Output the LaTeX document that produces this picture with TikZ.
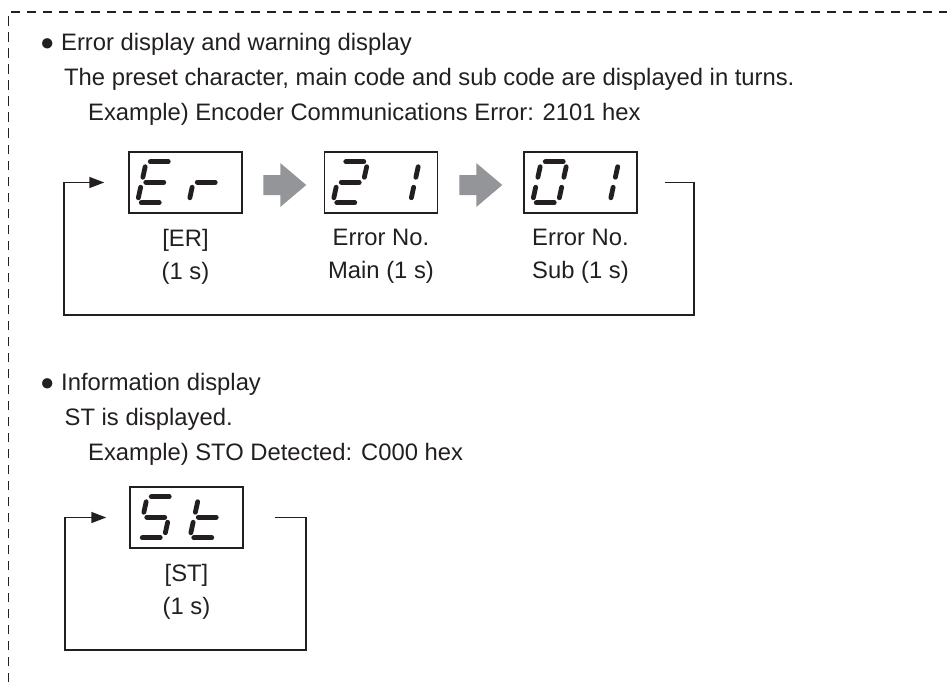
\documentclass[tikz,border=0pt]{standalone}
\usepackage{fontspec}
\setmainfont{Liberation Sans}
\usetikzlibrary{positioning,arrows.meta,calc}

\definecolor{ink}{RGB}{35,31,32}
\definecolor{arrowgray}{RGB}{147,149,152}

\tikzset{
  txt/.style={anchor=base west,inner sep=0pt,text=ink,font=\fontsize{23.8}{33}\selectfont},
  lbl/.style={align=center,inner sep=0pt,text=ink,font=\fontsize{23.8}{33}\selectfont},
  display/.style={draw=ink,line width=1.5pt,minimum width=113pt,minimum height=61pt,inner sep=0pt},
  seg/.style={ink,line width=4.8pt,line cap=round},
  loop/.style={ink,line width=1.6pt,-{Triangle[length=15pt,width=11pt]}},
  frame/.style={ink,line width=1.8pt,dash pattern=on 9.5pt off 6.5pt}
}

% cifra a sette segmenti: #1 = angolo in basso a sinistra, #2 = segmenti accesi
\newcommand{\segdigit}[2]{%
  \begin{scope}[shift={#1},y=1pt,xslant=0.22]
    \coordinate (a1) at (4,41);    \coordinate (a2) at (22,41);
    \coordinate (b1) at (26,36);   \coordinate (b2) at (26,25.5);
    \coordinate (c1) at (26,15.5); \coordinate (c2) at (26,5);
    \coordinate (d1) at (4,0);     \coordinate (d2) at (22,0);
    \coordinate (e1) at (0,15.5);  \coordinate (e2) at (0,5);
    \coordinate (f1) at (0,36);    \coordinate (f2) at (0,25.5);
    \coordinate (g1) at (4,20.5);  \coordinate (g2) at (22,20.5);
    \foreach \s in {#2} {\draw[seg] (\s1) -- (\s2);}
  \end{scope}}

% freccia grigia piena: #1 = centro
\newcommand{\grayarrow}[1]{%
  \fill[arrowgray,shift={#1},y=1pt] (-21.5,10) -- (-4.5,10) -- (-4.5,22) -- (21.5,0)
    -- (-4.5,-22) -- (-4.5,-10) -- (-21.5,-10) -- cycle;}

\begin{document}
\begin{tikzpicture}[x=1pt,y=-1pt]
    \useasboundingbox (0,0) rectangle (947,682);

    % cornice tratteggiata
    \draw[frame] (8.5,682) -- (8.5,12) -- (947,12);

    % errori e avvisi
    \node[txt] (head1) at (40,51) {● Error display and warning display};
    \node[txt] (note1) at (64,86) {The preset character, main code and sub code are displayed in turns.};
    \node[txt] (ex1) at (88,121) {Example) Encoder Communications Error: 2101 hex};

    \node[display] (er) at (185.5,182.5) {};
    \node[display, right=81pt of er] (main) {};
    \node[display, right=85pt of main] (sub) {};

    \segdigit{([xshift=9pt,yshift=11pt]er.south west)}{a,f,g,e,d}
    \segdigit{([xshift=60.5pt,yshift=11pt]er.south west)}{e,g}
    \segdigit{([xshift=9pt,yshift=11pt]main.south west)}{a,b,g,e,d}
    \segdigit{([xshift=60.5pt,yshift=11pt]main.south west)}{b,c}
    \segdigit{([xshift=9pt,yshift=11pt]sub.south west)}{a,b,c,d,e,f}
    \segdigit{([xshift=60.5pt,yshift=11pt]sub.south west)}{b,c}

    \grayarrow{($(er.east)!0.5!(main.west)+(1.5,2.5)$)}
    \grayarrow{($(main.east)!0.5!(sub.west)+(0,2.5)$)}

    \node[lbl, below=15.5pt of er] (erl) {[ER]\\(1 s)};
    \node[lbl, below=15.5pt of main] (mainl) {Error No.\\Main (1 s)};
    \node[lbl, below=15.5pt of sub] (subl) {Error No.\\Sub (1 s)};

    % ritorno
    \coordinate (back1) at (64,315);
    \draw[loop] ([xshift=27pt]sub.east) -- ++(29,0) |- (back1) |- ([xshift=-24pt]er.west);

    % informazioni
    \node[txt] (head2) at (40,390) {● Information display};
    \node[txt] (note2) at (64.5,425) {ST is displayed.};
    \node[txt] (ex2) at (88,460) {Example) STO Detected: C000 hex};

    \node[display] (st) at (186.5,517.5) {};
    \segdigit{([xshift=9pt,yshift=11pt]st.south west)}{a,f,g,c,d}
    \segdigit{([xshift=60.5pt,yshift=11pt]st.south west)}{f,e,g,d}

    \node[lbl, below=15.5pt of st] (stl) {[ST]\\(1 s)};

    \coordinate (back2) at (65,650);
    \draw[loop] ([xshift=31pt]st.east) -- ++(31,0) |- (back2) |- ([xshift=-23pt]st.west);
\end{tikzpicture}
\end{document}
